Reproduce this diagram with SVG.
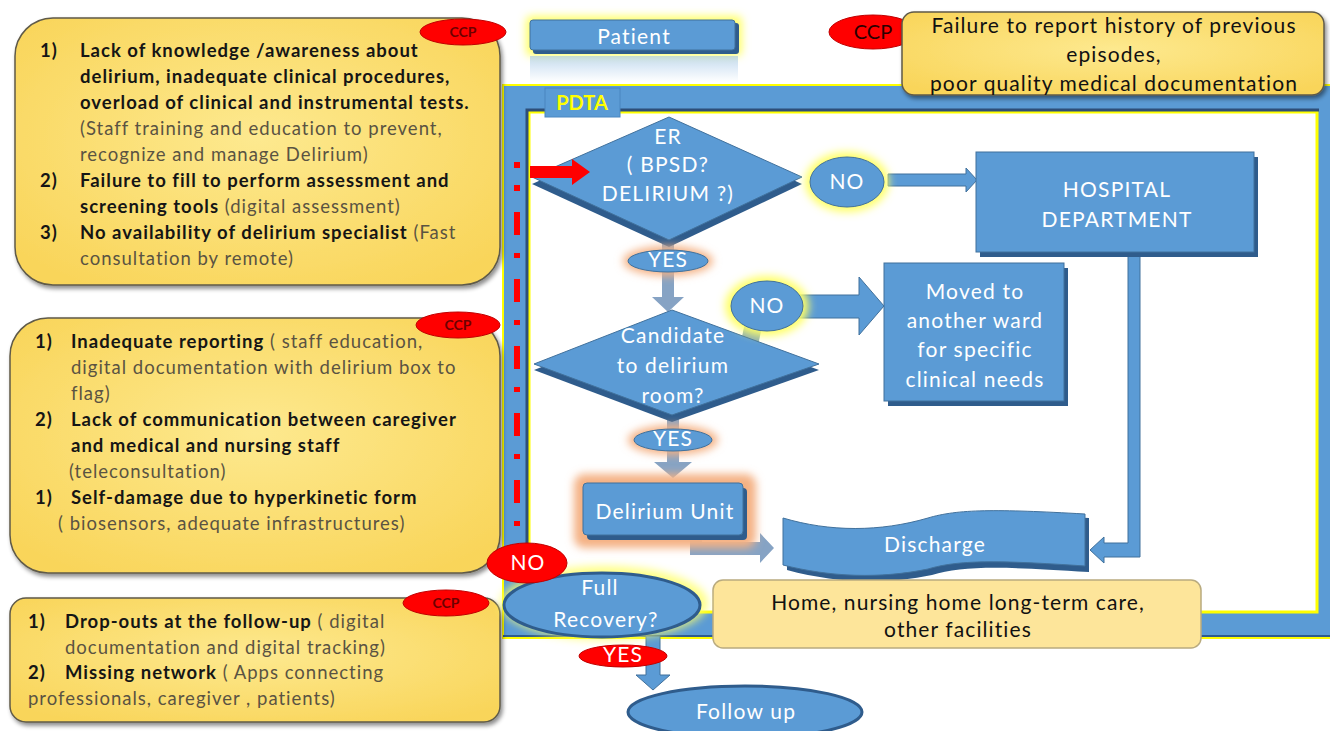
<svg xmlns="http://www.w3.org/2000/svg" width="1330" height="731" viewBox="0 0 1330 731">
<defs>
<style>
text{font-family:Lato,"Liberation Sans",sans-serif}
.w{fill:#fff;text-anchor:middle;font-size:21px;letter-spacing:1.2px}
.b{font-weight:700;fill:#151515}
.n{font-weight:400;fill:#5a5342}
.lb{font-size:18.5px;letter-spacing:1px}
.blue{fill:#5b9bd5;stroke:#41719c;stroke-width:1}
.dk{fill:#2f5c8c}
.gray{fill:#86a3c4}
.ccp{fill:#ff0000;stroke:#c00000;stroke-width:1}
.ccpt{font-size:14px;font-weight:700;fill:#6e0000;text-anchor:middle}
.yb{fill:url(#yg);stroke:#5f5a48;stroke-width:1.5;filter:url(#sh)}
.gy{fill:#ffff66;filter:url(#bl)}
.go{fill:#f4b183;filter:url(#bl)}
.bk{font-size:21px;fill:#111;text-anchor:middle;letter-spacing:1.1px}
</style>
<radialGradient id="yg" cx="50%" cy="45%" r="65%"><stop offset="0" stop-color="#fde98f"/><stop offset="1" stop-color="#f9d55a"/></radialGradient>
<linearGradient id="refl" x1="0" y1="0" x2="0" y2="1"><stop offset="0" stop-color="#9dc3e6" stop-opacity="0.6"/><stop offset="1" stop-color="#9dc3e6" stop-opacity="0"/></linearGradient>
<filter id="sh" x="-5%" y="-5%" width="112%" height="118%"><feDropShadow dx="2" dy="3" stdDeviation="2" flood-color="#000" flood-opacity="0.45"/></filter>
<filter id="bl" x="-40%" y="-40%" width="180%" height="180%"><feGaussianBlur stdDeviation="4"/></filter>
</defs>

<rect width="1330" height="731" fill="#fff"/>

<g id="pdta-frame">
<rect x="503" y="85" width="840" height="553" fill="#5b9bd5" stroke="#ffff00" stroke-width="2"/>
<path d="M503,636 H1330" stroke="#2f5c8c" stroke-width="2"/>
<rect x="529" y="112" width="788" height="500" fill="#fff" stroke="#ffff00" stroke-width="3"/>
<path d="M527,614 V110 H1319" fill="none" stroke="#2e4e78" stroke-width="3"/>
<rect x="545" y="88" width="75" height="29" fill="#5b9bd5" stroke="#4a86c0"/>
<text x="582" y="110" font-size="20" font-weight="700" fill="#ffff00" text-anchor="middle">PDTA</text>
</g>

<g id="connectors">
<rect x="514" y="162" width="6" height="6" fill="#ff0000"/>
<rect x="514" y="185" width="6" height="6" fill="#ff0000"/>
<line x1="517" y1="212" x2="517" y2="530" stroke="#ff0000" stroke-width="6" stroke-dasharray="23 18 5 21"/>
<path d="M888,174 H966 V168 L977,180 L966,192 V186 H888 Z" class="blue"/>
<path d="M662,240 H674 V297 H684 L668,312 L652,297 H662 Z" class="gray"/>
<path d="M790,295 H859 V277 L884,306 L859,335 V318 H790 Z" class="blue"/>
<path d="M745,322 L762,326 L758,346 L741,342 Z" fill="#8fb0b0"/>
<path d="M667,415 H679 V462 H692 L673,478 L654,462 H667 Z" class="gray"/>
<path d="M690,536 H702 V542 H760 V533 L774,548 L760,563 V555 H690 Z" class="gray"/>
<path d="M1128,255 H1140 V557 H1104 V563 L1090,550 L1104,537 V543 H1128 Z" class="blue"/>
<path d="M646,636 H660 V675 H670 L653,690 L636,675 H646 Z" class="blue"/>
</g>

<g id="box-ccp1">
<rect x="15" y="18" width="485" height="267" rx="38" class="yb"/>
<ellipse cx="463" cy="32" rx="43" ry="13" class="ccp"/>
<text x="463" y="37" class="ccpt">CCP</text>
<text class="lb"><tspan x="40" y="57" class="b">1)</tspan><tspan x="80" y="57" class="b">Lack of knowledge /awareness about</tspan></text>
<text x="80" y="83" class="b lb">delirium, inadequate  clinical procedures,</text>
<text x="80" y="109" class="b lb">overload of clinical and instrumental  tests.</text>
<text x="80" y="135" class="n lb">(Staff training  and education to prevent,</text>
<text x="80" y="161" class="n lb">recognize and manage Delirium)</text>
<text class="lb"><tspan x="40" y="187" class="b">2)</tspan><tspan x="80" y="187" class="b">Failure to fill to perform assessment and</tspan></text>
<text class="lb"><tspan x="80" y="213" class="b">screening tools</tspan><tspan class="n"> (digital assessment)</tspan></text>
<text class="lb"><tspan x="40" y="239" class="b">3)</tspan><tspan x="80" y="239" class="b">No availability of delirium specialist</tspan><tspan class="n"> (Fast</tspan></text>
<text x="80" y="265" class="n lb">consultation by remote)</text>
</g>

<g id="box-ccp2">
<rect x="10" y="318" width="490" height="255" rx="38" class="yb"/>
<ellipse cx="458" cy="325" rx="42" ry="13" class="ccp"/>
<text x="458" y="330" class="ccpt">CCP</text>
<text class="lb"><tspan x="35" y="348" class="b">1)</tspan><tspan x="71" y="348" class="b">Inadequate reporting</tspan><tspan class="n"> ( staff education,</tspan></text>
<text x="71" y="374" class="n lb">digital documentation with delirium box to</text>
<text x="71" y="400" class="n lb">flag)</text>
<text class="lb"><tspan x="35" y="426" class="b">2)</tspan><tspan x="71" y="426" class="b">Lack of communication  between caregiver</tspan></text>
<text x="71" y="452" class="b lb">and medical and nursing staff</text>
<text x="69" y="478" class="n lb">(teleconsultation)</text>
<text class="lb"><tspan x="35" y="504" class="b">1)</tspan><tspan x="71" y="504" class="b">Self-damage due to hyperkinetic form</tspan></text>
<text x="58" y="530" class="n lb">( biosensors, adequate  infrastructures)</text>
</g>

<g id="box-ccp3">
<rect x="10" y="598" width="490" height="124" rx="16" class="yb"/>
<ellipse cx="446" cy="603" rx="43" ry="13" class="ccp"/>
<text x="446" y="608" class="ccpt">CCP</text>
<text class="lb"><tspan x="28" y="628" class="b">1)</tspan><tspan x="65" y="628" class="b">Drop-outs  at the follow-up</tspan><tspan class="n"> ( digital</tspan></text>
<text x="65" y="654" class="n lb">documentation  and digital tracking)</text>
<text class="lb"><tspan x="28" y="679" class="b">2)</tspan><tspan x="65" y="679" class="b">Missing network</tspan><tspan class="n"> ( Apps connecting</tspan></text>
<text x="28" y="705" class="n lb">professionals,  caregiver  , patients)</text>
</g>

<g id="patient">
<rect x="526" y="16" width="216" height="40" rx="5" class="gy"/>
<rect x="533" y="23" width="206" height="31" rx="3" class="dk"/>
<rect x="530" y="20" width="205" height="30" rx="3" class="blue"/>
<rect x="530" y="56" width="208" height="26" fill="url(#refl)"/>
<text x="634" y="44" class="w">Patient</text>
</g>

<g id="ccp-history">
<ellipse cx="873" cy="32" rx="44" ry="17" class="ccp"/>
<text x="873" y="39" font-size="20" fill="#2a0000" text-anchor="middle">CCP</text>
<rect x="902" y="12" width="422" height="83" rx="12" class="yb"/>
<text x="1114" y="33" class="bk">Failure to report history of previous</text>
<text x="1114" y="62" class="bk">episodes,</text>
<text x="1114" y="91" class="bk">poor quality medical documentation</text>
</g>

<g id="er">
<polygon points="669,123 802,184 669,247 532,184" class="dk"/>
<polygon points="669,117 802,177 669,240 532,177" class="blue"/>
<text x="668" y="144" class="w">ER</text>
<text x="668" y="172" class="w" font-size="17">( BPSD?</text>
<text x="668" y="201" class="w" font-size="17" letter-spacing="0.5">DELIRIUM  ?)</text>
</g>

<g id="alert-arrow">
<path d="M530,166 H572 V159 L590,172 L572,185 V178 H530 Z" fill="#ff0000"/>
</g>

<g id="er-no">
<ellipse cx="847" cy="182" rx="42" ry="30" class="gy"/>
<ellipse cx="847" cy="182" rx="37" ry="25" class="blue"/>
<text x="847" y="189" class="w">NO</text>
</g>

<g id="er-yes">
<ellipse cx="668" cy="261" rx="45" ry="15" class="go"/>
<ellipse cx="668" cy="261" rx="40" ry="11" class="blue"/>
<text x="668" y="267" class="w" font-size="18">YES</text>
</g>

<g id="hospital">
<rect x="980" y="157" width="278" height="100" class="dk"/>
<rect x="976" y="152" width="278" height="100" class="blue"/>
<text x="1117" y="197" class="w" font-size="20" letter-spacing="0.6">HOSPITAL</text>
<text x="1117" y="227" class="w" font-size="20" letter-spacing="0.6">DEPARTMENT</text>
</g>

<g id="candidate">
<polygon points="672,316 819,370 672,422 534,370" class="dk"/>
<polygon points="672,310 819,364 672,415 534,364" class="blue"/>
<text x="673" y="343" class="w">Candidate</text>
<text x="673" y="373" class="w">to delirium</text>
<text x="673" y="403" class="w">room?</text>
</g>

<g id="candidate-no">
<ellipse cx="767" cy="306" rx="42" ry="30" class="gy"/>
<ellipse cx="767" cy="306" rx="36" ry="25" class="blue"/>
<text x="767" y="313" class="w">NO</text>
</g>

<g id="moved">
<rect x="888" y="268" width="180" height="138" class="dk"/>
<rect x="884" y="263" width="180" height="138" class="blue"/>
<text x="975" y="299" class="w">Moved to</text>
<text x="975" y="328" class="w">another ward</text>
<text x="975" y="357" class="w">for specific</text>
<text x="975" y="387" class="w">clinical needs</text>
</g>

<g id="candidate-yes">
<ellipse cx="673" cy="440" rx="45" ry="15" class="go"/>
<ellipse cx="673" cy="440" rx="39" ry="11" class="blue"/>
<text x="673" y="446" class="w" font-size="18">YES</text>
</g>

<g id="delirium-unit">
<rect x="574" y="474" width="182" height="74" rx="10" class="go"/>
<rect x="587" y="488" width="160" height="52" rx="4" class="dk"/>
<rect x="583" y="483" width="160" height="52" rx="4" class="blue"/>
<text x="665" y="519" class="w">Delirium Unit</text>
</g>

<g id="discharge">
<path d="M787,522 C835,536 885,536 932,522 C962,512 1000,512 1089,518 L1089,572 C1000,566 962,566 932,575 C885,585 835,583 787,570 Z" class="dk"/>
<path d="M783,518 C830,532 880,532 928,518 C958,509 996,509 1085,514 L1085,566 C996,560 958,560 928,569 C880,579 830,577 783,565 Z" class="blue"/>
<text x="935" y="552" class="w">Discharge</text>
</g>

<g id="home">
<rect x="713" y="580" width="488" height="68" rx="10" fill="#fde59a" stroke="#b9ab7f" stroke-width="1.5"/>
<text x="958" y="610" class="bk" font-size="22" letter-spacing="0.8">Home, nursing home long-term care,</text>
<text x="958" y="637" class="bk" font-size="22" letter-spacing="0.8">other facilities</text>
</g>

<g id="full-recovery">
<ellipse cx="604" cy="603" rx="104" ry="37" class="gy" opacity="0.8"/>
<ellipse cx="602" cy="605" rx="98" ry="32" fill="#5b9bd5" stroke="#2f5c8c" stroke-width="3"/>
<text x="600" y="595" class="w">Full</text>
<text x="606" y="627" class="w">Recovery?</text>
</g>

<g id="no-recovery">
<ellipse cx="527" cy="563" rx="40" ry="20" class="ccp"/>
<text x="528" y="570" class="w">NO</text>
</g>

<g id="yes-recovery">
<ellipse cx="623" cy="656" rx="44" ry="11" class="ccp"/>
<text x="623" y="662" class="w" font-size="18">YES</text>
</g>

<g id="follow-up">
<ellipse cx="745" cy="712" rx="117" ry="26" fill="#5b9bd5" stroke="#2f5c8c" stroke-width="3"/>
<text x="746" y="719" class="w">Follow up</text>
</g>
</svg>
